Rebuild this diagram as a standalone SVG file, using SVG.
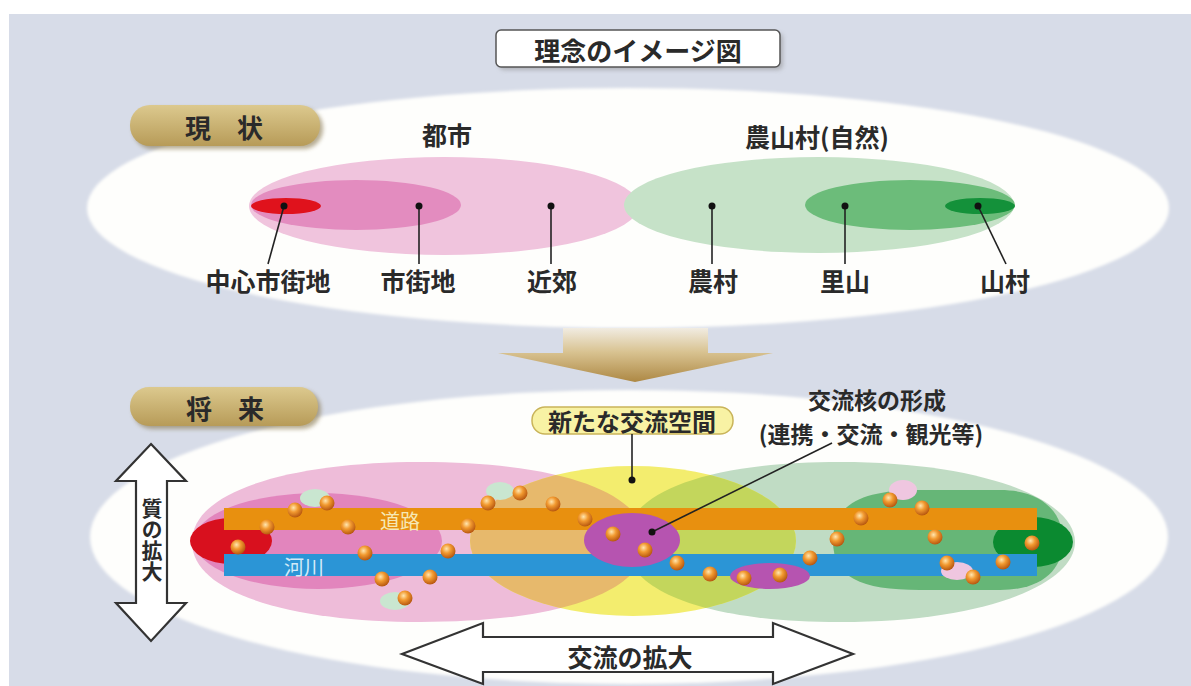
<svg xmlns="http://www.w3.org/2000/svg" width="1191" height="686" viewBox="0 0 1191 686">
<style>
  text{font-family:"Noto Sans CJK JP","Noto Sans",sans-serif;text-anchor:middle;dominant-baseline:central;fill:#2a2a2a;font-weight:bold}
  .lbl{font-size:25px}
  .lead{stroke:#222;stroke-width:1.6;fill:none}
  .dot{fill:#111}
  .ball{fill:url(#gBall)}
  .dbl{fill:#fff;stroke:#333;stroke-width:2.2;stroke-linejoin:miter}
</style>
<defs>
  <linearGradient id="gPill" x1="0" y1="0" x2="0" y2="1">
    <stop offset="0" stop-color="#dcc98e"/>
    <stop offset="1" stop-color="#b79b58"/>
  </linearGradient>
  <linearGradient id="gDown" x1="0" y1="0" x2="0" y2="1">
    <stop offset="0" stop-color="#f1ece2"/>
    <stop offset="0.45" stop-color="#d8c290"/>
    <stop offset="1" stop-color="#ad8844"/>
  </linearGradient>
  <radialGradient id="gBall" cx="0.4" cy="0.35" r="0.65">
    <stop offset="0" stop-color="#ffe6b0"/>
    <stop offset="0.45" stop-color="#f29a30"/>
    <stop offset="1" stop-color="#b85810"/>
  </radialGradient>
  <filter id="soft" x="-5%" y="-10%" width="110%" height="120%">
    <feGaussianBlur stdDeviation="1.5"/>
  </filter>
  <filter id="shadow" x="-10%" y="-30%" width="120%" height="160%">
    <feGaussianBlur stdDeviation="2"/>
  </filter>
  <clipPath id="clipYellow">
    <ellipse cx="633" cy="541" rx="163" ry="75"/>
  </clipPath>
  <path id="pinkOuter" d="M192,542 C192,488 300,462 420,462 C580,462 646,500 646,542 C646,584 580,622 420,622 C300,622 192,596 192,542 Z"/>
  <path id="greenOuter" d="M625,542 C625,495 700,462 840,462 C985,462 1075,500 1075,542 C1075,584 985,622 840,622 C700,622 625,589 625,542 Z"/>
</defs>

<!-- background -->
<rect x="0" y="0" width="1191" height="686" fill="#d7dce8"/>
<rect x="0" y="0" width="1191" height="14" fill="#ffffff"/>
<rect x="0" y="0" width="9" height="686" fill="#ffffff"/>

<!-- title -->
<g id="title">
  <rect x="499" y="33" width="284" height="37" rx="5" fill="#888" opacity="0.5" filter="url(#shadow)"/>
  <rect x="496" y="30" width="284" height="37" rx="5" fill="#ffffff" stroke="#555" stroke-width="1.5"/>
  <text x="638" y="49" style="font-size:26px">理念のイメージ図</text>
</g>

<!-- current state panel -->
<g id="current-panel">
  <ellipse cx="628" cy="208" rx="541" ry="120" fill="#fefefc" filter="url(#soft)"/>
</g>
<g id="pill-current">
  <rect x="133" y="108" width="190" height="41" rx="20" fill="#7d6a3c" opacity="0.55" filter="url(#shadow)"/>
  <rect x="130" y="105" width="190" height="41" rx="20" fill="url(#gPill)"/>
  <text x="224" y="126" style="font-size:26px">現　状</text>
</g>
<g id="city-label"><text class="lbl" x="447" y="134">都市</text></g>
<g id="rural-label"><text class="lbl" x="817" y="136">農山村(自然)</text></g>

<g id="city-now">
  <ellipse cx="444" cy="206" rx="195" ry="49" fill="#f0c4dd"/>
  <ellipse cx="356" cy="205" rx="105" ry="25" fill="#e38cbf"/>
  <ellipse cx="286" cy="206" rx="35" ry="8" fill="#e0121c"/>
</g>
<g id="rural-now">
  <ellipse cx="819" cy="205" rx="195" ry="48" fill="#c6e2c8"/>
  <ellipse cx="910" cy="205" rx="105" ry="25" fill="#6cbc7a"/>
  <ellipse cx="980" cy="206" rx="35" ry="8" fill="#14913a"/>
</g>

<g id="zone-labels">
  <text class="lbl" x="268" y="280">中心市街地</text>
  <text class="lbl" x="418" y="280">市街地</text>
  <text class="lbl" x="552" y="280">近郊</text>
  <text class="lbl" x="713" y="280">農村</text>
  <text class="lbl" x="845" y="280">里山</text>
  <text class="lbl" x="1005" y="280">山村</text>
</g>

<!-- transition arrow -->
<g id="down-arrow">
  <path d="M563,328 L708,328 L708,353 L773,353 L635,382 L498,353 L563,353 Z" fill="url(#gDown)"/>
</g>

<!-- future panel -->
<g id="future-panel">
  <ellipse cx="629" cy="537" rx="539" ry="147" fill="#fefefc" filter="url(#soft)"/>
</g>
<g id="pill-future">
  <rect x="133" y="390" width="188" height="39" rx="19" fill="#7d6a3c" opacity="0.55" filter="url(#shadow)"/>
  <rect x="130" y="387" width="188" height="39" rx="19" fill="url(#gPill)"/>
  <text x="225" y="407" style="font-size:26px">将　来</text>
</g>

<g id="quality-arrow">
  <path class="dbl" d="M151,444 L186,481 L167,481 L167,603 L186,603 L151,641 L116,603 L136,603 L136,481 L116,481 Z"/>
  <text x="152" y="540" writing-mode="vertical-rl" style="font-size:21px;writing-mode:vertical-rl">質の拡大</text>
</g>

<g id="exchange-arrow">
  <path class="dbl" d="M402,654 L483,623 L483,637 L773,637 L773,623 L853,654 L773,684 L773,672 L483,672 L483,684 Z"/>
  <text x="630" y="656" style="font-size:25px">交流の拡大</text>
</g>

<g id="city-future">
  <use href="#pinkOuter" fill="#eebcd9"/>
  <ellipse cx="318" cy="541" rx="124" ry="48" fill="#e285bd"/>
  <ellipse cx="231" cy="541" rx="41" ry="23" fill="#d8101e"/>
</g>
<g id="rural-future">
  <use href="#greenOuter" fill="#c0dcc4"/>
  <path d="M833,541 C833,505 860,490 920,490 L1000,490 C1045,490 1063,515 1063,541 C1063,567 1045,590 1000,590 L920,590 C860,590 833,577 833,541 Z" fill="#66b677"/>
  <ellipse cx="1033" cy="542" rx="40" ry="25" fill="#0b8a30"/>
</g>
<g id="new-exchange-space">
  <ellipse cx="633" cy="541" rx="163" ry="75" fill="#f3ed6e"/>
  <g clip-path="url(#clipYellow)">
    <use href="#pinkOuter" fill="#e7b96c"/>
    <use href="#greenOuter" fill="#c3d65c"/>
  </g>
</g>

<g id="road">
  <rect x="224" y="508" width="813" height="22" fill="#e8900f"/>
  <text x="400" y="520" style="font-size:20px;fill:#f6e8b4;font-weight:normal">道路</text>
</g>
<g id="river">
  <rect x="224" y="554" width="813" height="22" fill="#2b95d6"/>
  <text x="304" y="566" style="font-size:20px;fill:#d2eaf8;font-weight:normal">河川</text>
</g>

<g id="exchange-core">
  <ellipse cx="632" cy="540" rx="48" ry="27" fill="#b654b0"/>
  <ellipse cx="770" cy="576" rx="40" ry="13" fill="#b654b0"/>
</g>

<g id="blobs">
  <ellipse cx="315" cy="498" rx="15" ry="9" fill="#c9e6d0"/>
  <ellipse cx="500" cy="491" rx="14" ry="9" fill="#c9e6d0"/>
  <ellipse cx="395" cy="601" rx="15" ry="9" fill="#c9e6d0"/>
  <ellipse cx="903" cy="490" rx="14" ry="10" fill="#efc6e0"/>
  <ellipse cx="957" cy="571" rx="16" ry="9" fill="#efc6e0"/>
</g>

<g id="balls">
  <circle class="ball" cx="295" cy="510" r="7.5"/>
  <circle class="ball" cx="327" cy="503" r="7.5"/>
  <circle class="ball" cx="267" cy="527" r="7.5"/>
  <circle class="ball" cx="348" cy="527" r="7.5"/>
  <circle class="ball" cx="238" cy="547" r="7.5"/>
  <circle class="ball" cx="365" cy="553" r="7.5"/>
  <circle class="ball" cx="382" cy="579" r="7.5"/>
  <circle class="ball" cx="430" cy="577" r="7.5"/>
  <circle class="ball" cx="405" cy="598" r="7.5"/>
  <circle class="ball" cx="488" cy="503" r="7.5"/>
  <circle class="ball" cx="520" cy="493" r="7.5"/>
  <circle class="ball" cx="553" cy="504" r="7.5"/>
  <circle class="ball" cx="468" cy="526" r="7.5"/>
  <circle class="ball" cx="448" cy="551" r="7.5"/>
  <circle class="ball" cx="585" cy="519" r="7.5"/>
  <circle class="ball" cx="613" cy="534" r="7.5"/>
  <circle class="ball" cx="645" cy="550" r="7.5"/>
  <circle class="ball" cx="677" cy="563" r="7.5"/>
  <circle class="ball" cx="710" cy="574" r="7.5"/>
  <circle class="ball" cx="744" cy="578" r="7.5"/>
  <circle class="ball" cx="780" cy="575" r="7.5"/>
  <circle class="ball" cx="810" cy="558" r="7.5"/>
  <circle class="ball" cx="837" cy="539" r="7.5"/>
  <circle class="ball" cx="861" cy="518" r="7.5"/>
  <circle class="ball" cx="890" cy="500" r="7.5"/>
  <circle class="ball" cx="922" cy="508" r="7.5"/>
  <circle class="ball" cx="935" cy="537" r="7.5"/>
  <circle class="ball" cx="947" cy="563" r="7.5"/>
  <circle class="ball" cx="973" cy="577" r="7.5"/>
  <circle class="ball" cx="1003" cy="562" r="7.5"/>
  <circle class="ball" cx="1032" cy="543" r="7.5"/>
</g>

<g id="label-new-space">
  <rect x="532" y="407" width="201" height="27" rx="13" fill="#f8f2a4" stroke="#c9b45a" stroke-width="1.5"/>
  <text x="632" y="420" style="font-size:24px">新たな交流空間</text>
</g>
<g id="label-core">
  <text x="877" y="399" style="font-size:23px">交流核の形成</text>
  <text x="871" y="433" style="font-size:23px">(連携・交流・観光等)</text>
</g>

<g id="connectors">
  <line class="lead" x1="284" y1="206" x2="268" y2="264"/>
  <line class="lead" x1="419" y1="206" x2="419" y2="264"/>
  <line class="lead" x1="551" y1="206" x2="551" y2="264"/>
  <line class="lead" x1="712" y1="206" x2="712" y2="264"/>
  <line class="lead" x1="845" y1="206" x2="845" y2="264"/>
  <line class="lead" x1="978" y1="206" x2="1006" y2="264"/>
  <circle class="dot" cx="284" cy="206" r="3.5"/>
  <circle class="dot" cx="419" cy="206" r="3.5"/>
  <circle class="dot" cx="551" cy="206" r="3.5"/>
  <circle class="dot" cx="712" cy="206" r="3.5"/>
  <circle class="dot" cx="845" cy="206" r="3.5"/>
  <circle class="dot" cx="978" cy="206" r="3.5"/>
  <line class="lead" x1="632" y1="434" x2="632" y2="480"/>
  <circle class="dot" cx="632" cy="480" r="3.5"/>
  <line class="lead" x1="652" y1="532" x2="832" y2="443"/>
  <circle class="dot" cx="652" cy="532" r="3.5"/>
</g>
</svg>
